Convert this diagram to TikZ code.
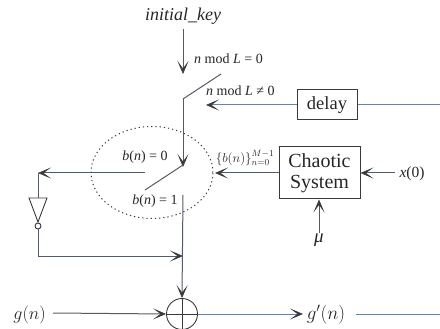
\documentclass[tikz,border=0pt]{standalone}
\usepackage{fix-cm}
\usepackage{fontspec}
\setmainfont{Liberation Serif}
\usetikzlibrary{arrows.meta,shapes.geometric}
\definecolor{ink}{HTML}{3A3A3A}
\definecolor{blueline}{HTML}{6F7F9F}
\definecolor{soft}{HTML}{555B66}
\newcommand{\fs}[1]{\fontsize{#1}{#1}\selectfont}
\tikzset{
  x=1pt,y=-1pt,
  wire/.style={draw=soft,line width=1pt},
  bluewire/.style={draw=blueline,line width=1pt},
  arr/.style={-{Stealth[length=13pt,width=11pt,inset=7.5pt,line width=0.6pt,color=ink]}},
  blockbox/.style={draw=ink,line width=1pt,fill=none,inner sep=0pt,align=center,text=black!85,font=\fs{20}},
  lab/.style={inner sep=0pt,text=black!85},
}
\begin{document}
\begin{tikzpicture}
\useasboundingbox (0,0) rectangle (440,329);
% labels
\node[lab,font=\fs{18}\itshape] (key) at (183,16) {initial\_key};
\node[lab,font=\fs{14},anchor=west] (m0) at (194,59) {\textit{n} mod \textit{L} = 0};
\node[lab,font=\fs{14},anchor=west] (m1) at (206,91) {\textit{n} mod \textit{L} ≠ 0};
\node[lab,font=\fs{14}] (b0) at (145,157) {\textit{b}(\textit{n}) = 0};
\node[lab,font=\fs{14}] (b1) at (155,201) {\textit{b}(\textit{n}) = 1};
\node[lab,font=\fs{13}] (bs) at (245,158) {$\{b(n)\}_{n=0}^{M-1}$};
\node[lab,font=\fs{15.5}] (x0) at (412,174) {\textit{x}(0)};
\node[lab,font=\fs{19}\itshape] (mu) at (319,240) {μ};
\node[lab,font=\fs{18},anchor=east] (g) at (46,315) {$g(n)$};
\node[lab,font=\fs{19}] (gp) at (326,315) {$g'(n)$};
% blocks
\node[blockbox,minimum width=60pt,minimum height=30pt,font=\fs{18.5}] (delay) at (327,105) {delay};
\node[blockbox,minimum width=81pt,minimum height=52pt] (chaos) at (319.5,173) {Chaotic\\[1pt]System};
\node[draw=ink,line width=0.9pt,circle,minimum size=31pt,inner sep=0pt] (xor) at (182,314) {};
\draw[ink,line width=0.9pt] (xor.north) -- (xor.south) (xor.west) -- (xor.east);
% inverter
\coordinate (tl) at (29,198); \coordinate (tr) at (47,198); \coordinate (tb) at (38,222);
\draw[ink,line width=0.9pt] (tl) -- (tr) -- (tb) -- cycle;
\node[draw=ink,line width=0.9pt,circle,minimum size=6pt,inner sep=0pt] (bub) at (38,226) {};
% dotted ellipse
\node[draw=ink,line width=1pt,dash pattern=on 1.2pt off 3pt,ellipse,minimum width=122pt,minimum height=92pt,inner sep=0pt] (oval) at (152,172.5) {};
% coordinates
\coordinate (k0) at (183,29); \coordinate (k1) at (183,74);
\coordinate (s1) at (183,99); \coordinate (s1e) at (221,74);
\coordinate (d1) at (206,105); \coordinate (r1) at (440,105);
\coordinate (v1) at (183,167);
\coordinate (s2) at (183,165); \coordinate (s2e) at (145,190);
\coordinate (h0) at (145,173); \coordinate (c0) at (38,173);
\coordinate (b2) at (183,195);
\coordinate (c1) at (38,256); \coordinate (j1) at (183,256);
\coordinate (g0) at (53,313);
\coordinate (xr) at (303,314); \coordinate (g1) at (356,314); \coordinate (r2) at (440,314);
\coordinate (bsa) at (215,173); \coordinate (x0a) at (395,173); \coordinate (mua) at (319,233);
% connectors
\draw[wire,arr] (k0) -- (k1);
\draw[wire] (s1) -- (s1e);
\draw[wire,arr] (s1) -- (v1);
\draw[wire] (s2) -- (s2e);
\draw[bluewire,arr] (delay.west) -- (d1);
\draw[bluewire] (r1) -- (delay.east);
\draw[wire,arr] (chaos.west |- bsa) -- (bsa);
\draw[wire,arr] (x0a) -- (chaos.east |- x0a);
\draw[wire,arr] (mua) -- (chaos.south -| mua);
\draw[wire,arr] (h0) -- (c0);
\draw[wire] (c0) -- (c0 |- tl);
\draw[wire,arr] (bub.south) -- (c1) -- (j1);
\draw[wire,arr] (b2) -- (xor.north);
\draw[wire,arr] (g0) -- (xor.west);
\draw[bluewire,arr] (xor.east) -- (xr);
\draw[bluewire] (g1) -- (r2);
\end{tikzpicture}
\end{document}
